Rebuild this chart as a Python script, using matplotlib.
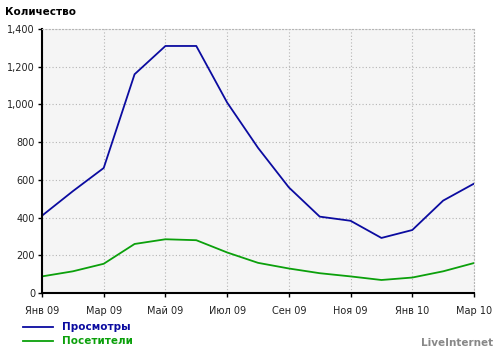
import matplotlib
matplotlib.use('Agg')
import matplotlib.pyplot as plt
from matplotlib.lines import Line2D

months = ['Янв 09', 'Фев 09', 'Мар 09', 'Апр 09', 'Май 09', 'Июн 09', 'Июл 09', 'Авг 09',
          'Сен 09', 'Окт 09', 'Ноя 09', 'Дек 09', 'Янв 10', 'Фев 10', 'Мар 10']
views = [410, 540, 663, 1160, 1310, 1310, 1010, 770, 560, 405, 383, 292, 334, 490, 580]
visitors = [88, 115, 155, 260, 285, 280, 215, 160, 130, 105, 88, 69, 82, 115, 159]

BLUE = '#0b0ba0'
GREEN = '#0ba00b'

plt.rcParams['font.family'] = ['DejaVu Sans']

fig = plt.figure(figsize=(5, 3.52), dpi=100)
ax = fig.add_axes([0.084, 0.1676, 0.864, 0.75])
ax.set_facecolor('#f5f5f5')

x = list(range(len(months)))
ax.plot(x, views, color=BLUE, lw=1.3)
ax.plot(x, visitors, color=GREEN, lw=1.3)

ax.set_xlim(0, len(months) - 1)
ax.set_ylim(0, 1400)
ax.set_xticks(x[::2])
ax.set_xticklabels(months[::2], fontsize=7, color='#222222')
ax.set_yticks(range(0, 1401, 200))
ax.set_yticklabels([f'{v:,}' for v in range(0, 1401, 200)], fontsize=7, color='#222222')
ax.tick_params(axis='both', length=3, width=1, color='black')
ax.tick_params(axis='x', pad=6)
ax.tick_params(axis='y', pad=2)

ax.grid(True, color='#b5b5b5', linestyle=(0, (1, 2)), lw=0.8)
for s in ['top', 'right']:
    ax.spines[s].set_color('#b5b5b5')
    ax.spines[s].set_linestyle((0, (1, 2)))
    ax.spines[s].set_linewidth(0.8)
for s in ['left', 'bottom']:
    ax.spines[s].set_color('black')
    ax.spines[s].set_linewidth(1.5)

fig.text(5 / 500, 1 - 12 / 352, 'Количество', fontsize=7.5, fontweight='bold', va='center')

for i, (label, col) in enumerate([('Просмотры', BLUE), ('Посетители', GREEN)]):
    yy = 1 - (327 + 14 * i) / 352
    fig.add_artist(Line2D([23 / 500, 53 / 500], [yy, yy], color=col, lw=1.3))
    fig.text(62 / 500, yy, label, fontsize=7.5, fontweight='bold', color=col, va='center')

fig.text(493 / 500, 1 - 343 / 352, 'LiveInternet', fontsize=7.5, fontweight='bold',
         color='#888888', ha='right', va='center')

fig.savefig('out.png', dpi=100)
